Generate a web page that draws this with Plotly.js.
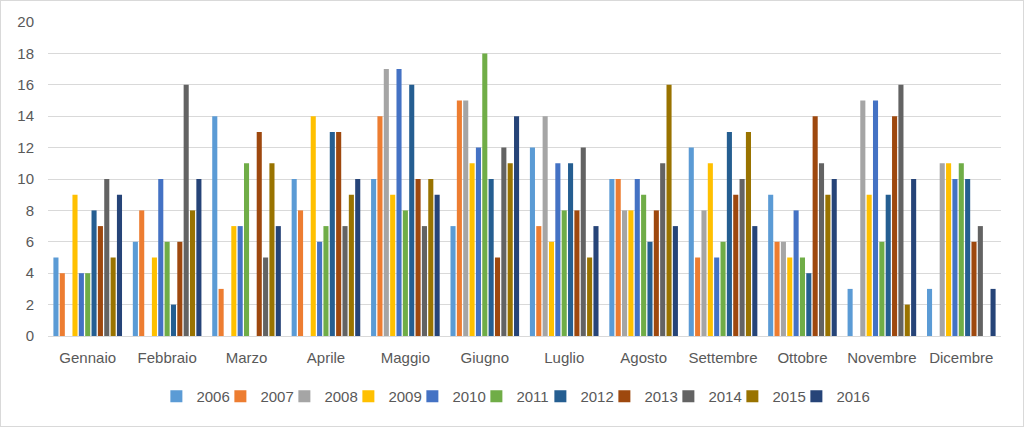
<!DOCTYPE html>
<html>
<head>
<meta charset="utf-8">
<script src="https://cdn.plot.ly/plotly-3.0.1.min.js"></script>
<style>
html,body{margin:0;padding:0;background:#fff;}
#wrap{position:absolute;left:0;top:0;width:1022px;height:425px;border:1px solid #d9d9d9;}
#chart{width:1022px;height:425px;}
</style>
</head>
<body>
<div id="wrap"><div id="chart"></div></div>
<script>
const months = ["Gennaio","Febbraio","Marzo","Aprile","Maggio","Giugno","Luglio","Agosto","Settembre","Ottobre","Novembre","Dicembre"];
const years = ["2006","2007","2008","2009","2010","2011","2012","2013","2014","2015","2016"];
const y2006 = [5,6,14,10,10,7,12,10,12,9,3,3];
const y2007 = [4,8,3,8,14,15,7,10,5,6,0,0];
const y2008 = [0,0,0,0,17,15,14,8,8,6,15,11];
const y2009 = [9,5,7,14,9,11,6,8,11,5,9,11];
const y2010 = [4,10,7,6,17,12,11,10,5,8,15,10];
const y2011 = [4,6,11,7,8,18,8,9,6,5,6,11];
const y2012 = [8,2,0,13,16,10,11,6,13,4,9,10];
const y2013 = [7,6,13,13,10,5,8,8,9,14,14,6];
const y2014 = [10,16,5,7,7,12,12,11,10,11,16,7];
const y2015 = [5,8,11,9,10,11,5,16,13,9,2,0];
const y2016 = [9,10,7,10,9,14,7,7,7,10,10,3];
const seriesValues = [y2006,y2007,y2008,y2009,y2010,y2011,y2012,y2013,y2014,y2015,y2016];
const colors = ["#5B9BD5","#ED7D31","#A5A5A5","#FFC000","#4472C4","#70AD47","#255E91","#9E480E","#636363","#997300","#264478"];

const traces = years.map((yr,i)=>({
  type:"bar", name:yr, x:months, y:seriesValues[i],
  marker:{color:colors[i]},
  legendwidth: i === years.length-1 ? 36 : 19
}));

const layout = {
  width:1022, height:425,
  margin:{l:47,r:22,t:21,b:90, autoexpand:false},
  paper_bgcolor:"#fff", plot_bgcolor:"#fff",
  font:{family:"Liberation Sans, Arial, sans-serif", size:15, color:"#595959"},
  barmode:"group", bargap:0.12, bargroupgap:0.2,
  showlegend:true,
  legend:{orientation:"h", x:0.492, xanchor:"center", y:-0.14, yanchor:"top",
          font:{size:15,color:"#595959"}, itemwidth:30, traceorder:"normal"},
  xaxis:{showgrid:false, showline:true, linecolor:"#d9d9d9", linewidth:1,
         ticks:"", tickangle:0, ticklabelstandoff:8, tickfont:{size:15,color:"#595959"}},
  yaxis:{range:[0,20], dtick:2, showgrid:true, gridcolor:"#d9d9d9", gridwidth:1,
         zeroline:false, showline:false, ticks:"", ticklabelstandoff:13, tickfont:{size:15,color:"#595959"}}
};
Plotly.newPlot("chart", traces, layout, {displayModeBar:false, staticPlot:true});
</script>
</body>
</html>
